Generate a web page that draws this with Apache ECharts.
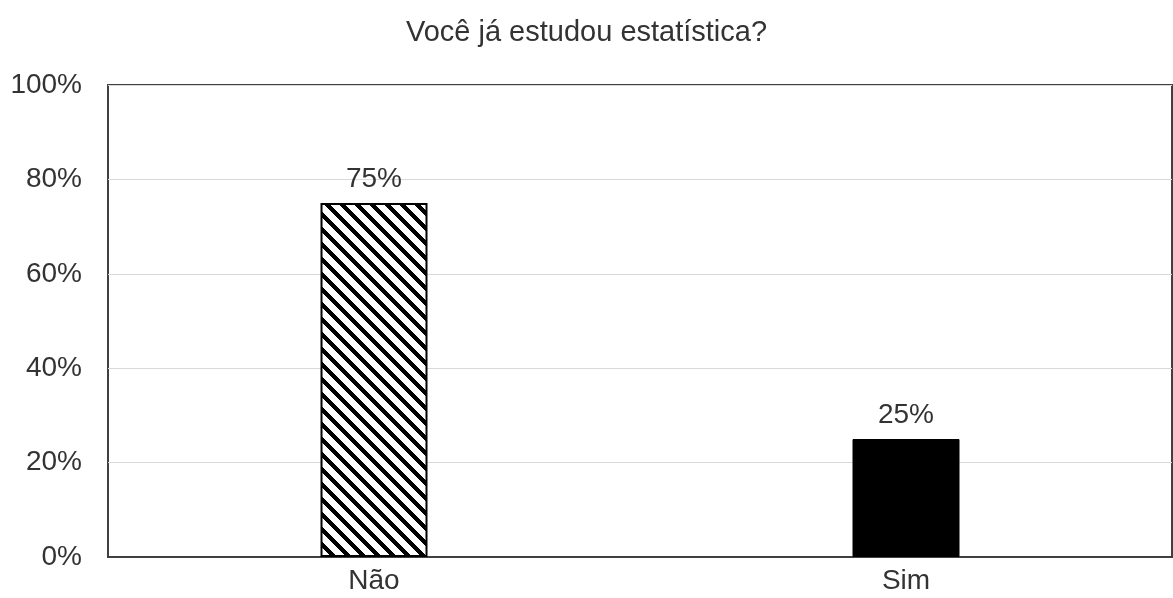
<!DOCTYPE html>
<html>
<head>
<meta charset="utf-8">
<script src="https://cdn.jsdelivr.net/npm/echarts@6/dist/echarts.min.js"></script>
<style>
  html, body { margin: 0; padding: 0; background: #fff; }
  #main { width: 1173px; height: 598px; }
</style>
</head>
<body>
<div id="main"></div>
<script>
// dados
var categorias = ['Não', 'Sim'];
var valores = [75, 25];
var yTicks = [0, 20, 40, 60, 80, 100];

// textura listrada diagonal para a barra "Não" (pixel a pixel, sem emendas)
function hachura() {
    var s = 15, faixa = 6;
    var c = document.createElement('canvas');
    c.width = s; c.height = s;
    var ctx = c.getContext('2d');
    var img = ctx.createImageData(s, s);
    for (var y = 0; y < s; y++) {
        for (var x = 0; x < s; x++) {
            var d = ((x - y) % s + s) % s;
            var v = d < faixa ? 0 : 255;
            var i = (y * s + x) * 4;
            img.data[i] = v; img.data[i + 1] = v; img.data[i + 2] = v; img.data[i + 3] = 255;
        }
    }
    ctx.putImageData(img, 0, 0);
    return c;
}

var myChart = echarts.init(document.getElementById('main'));

var corTexto = '#333';
var fonte = 'Liberation Sans, Arial, sans-serif';

option = {
    animation: false,
    title: {
        text: 'Você já estudou estatística?',
        left: 'center',
        top: 13,
        textStyle: {
            color: corTexto,
            fontFamily: fonte,
            fontWeight: 'normal',
            fontSize: 29
        }
    },
    grid: {
        left: 108,
        right: 1,
        top: 85,
        bottom: 41,
        show: true,
        borderColor: '#404040',
        borderWidth: 2,
        backgroundColor: '#fff'
    },
    xAxis: {
        type: 'category',
        data: categorias,
        axisLine: { show: true, lineStyle: { color: '#404040', width: 2 } },
        axisTick: { show: false },
        axisLabel: {
            color: corTexto,
            fontFamily: fonte,
            fontSize: 28,
            margin: 10
        }
    },
    yAxis: {
        type: 'value',
        min: yTicks[0],
        max: yTicks[yTicks.length - 1],
        interval: 20,
        axisLine: { show: false },
        axisTick: { show: false },
        splitLine: { lineStyle: { color: '#d9d9d9', width: 1 } },
        axisLabel: {
            color: corTexto,
            fontFamily: fonte,
            fontSize: 28,
            margin: 26,
            formatter: '{value}%'
        }
    },
    series: [
        {
            type: 'bar',
            barWidth: 107,
            data: [
                {
                    value: valores[0],
                    itemStyle: {
                        color: { image: hachura(), repeat: 'repeat' },
                        borderColor: '#000',
                        borderWidth: 2
                    }
                },
                {
                    value: valores[1],
                    itemStyle: { color: '#000', borderColor: '#000', borderWidth: 1 }
                }
            ],
            label: {
                show: true,
                position: 'top',
                distance: 10,
                color: corTexto,
                fontFamily: fonte,
                fontSize: 28,
                formatter: '{c}%'
            }
        }
    ]
};

myChart.setOption(option);
</script>
</body>
</html>
